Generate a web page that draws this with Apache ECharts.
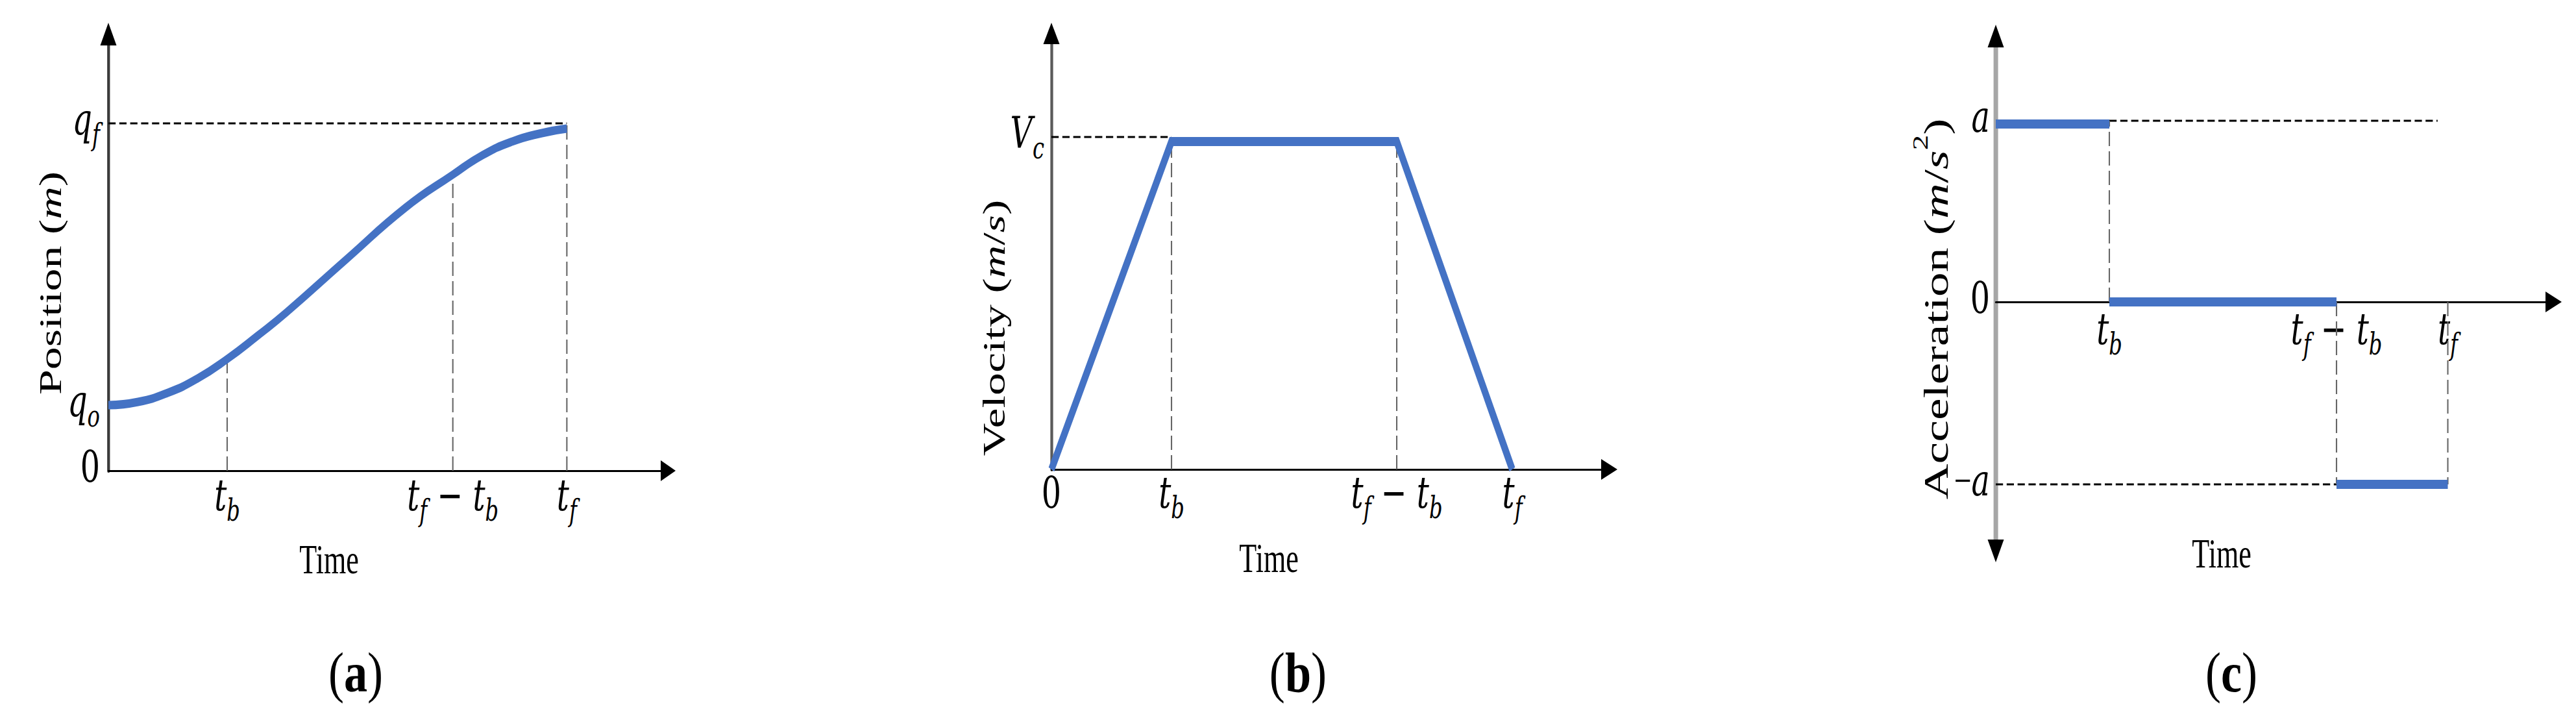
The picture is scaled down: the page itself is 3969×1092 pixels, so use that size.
<!DOCTYPE html>
<html><head><meta charset="utf-8">
<script src="https://cdn.jsdelivr.net/npm/echarts@6/dist/echarts.min.js"></script>
<style>
html,body{margin:0;padding:0;width:3969px;height:1092px;overflow:hidden;background:#fff}
#chart{width:5670px;height:1092px;transform:scaleX(0.7);transform-origin:0 0}
</style></head><body><div id="chart"></div>
<script>
// ---------------- data ----------------
// (a) Position
const posT = [0, 0.25, 0.5, 0.75, 1, 1.25, 1.5, 2, 2.5, 2.9, 3.15, 3.4, 3.65, 3.86];
const posQ = [1.01, 1.06, 1.2, 1.42, 1.72, 2.07, 2.44, 3.25, 4.05, 4.56, 4.86, 5.07, 5.2, 5.27];
const posXTicks = [1, 2.9, 3.86];
const posXLabels = ['{t|t}{s|b}', '{t|t}{s|f}{t| − t}{s|b}', '{t|t}{s|f}'];
const posYTicks = [0, 1.01, 5.35];
const posYLabels = ['{n|0}', '{t|q}{s|o}', '{t|q}{s|f}'];
const posGuideH = [[0, 3.86, 5.35]];                       // [t0, t1, q]
const posGuideV = [[1, 0, 1.72], [2.9, 0, 4.56], [3.86, 0, 5.35]]; // [t, q0, q1]
// (b) Velocity
const velT = [0, 1, 2.876, 3.838];
const velV = [0, 5.05, 5.05, 0];
const velXTicks = [0, 1, 2.876, 3.838];
const velXLabels = ['{n|0}', '{t|t}{s|b}', '{t|t}{s|f}{t| − t}{s|b}', '{t|t}{s|f}'];
const velYTicks = [5.12];
const velYLabels = ['{t|V}{s|c}'];
const velGuideH = [[0, 1, 5.12]];
const velGuideV = [[1, 0, 5.05], [2.876, 0, 5.05]];
// (c) Acceleration
const accStart = [0, 1, 3.0];
const accEnd = [1, 3.0, 3.98];
const accVal = [2.74, 0, -2.81];
const accXTicks = [1, 3.0, 3.98];
const accXLabels = ['{t|t}{s|b}', '{t|t}{s|f}{t| − t}{s|b}', '{t|t}{s|f}'];
const accYTicks = [2.79, 0, -2.81];
const accYLabels = ['{t|a}', '{n|0}', '{m|−}{t|a}'];
const accGuideH = [[1, 3.89, 2.79], [0, 3.0, -2.81]];
const accGuideV = [[1, 0, 2.79], [3.0, 0, -2.81], [3.98, 0, -2.81]];

// ---------------- layout (final page pixels) ----------------
const K = 0.7; // horizontal compression of the whole figure
const P = [
  {ox:167,  oy:725, ux:183, uy:100, xTip:1041, xLen:23, yTop:35, yLen:35, yBot:null, yW:4.3, yCol:'#3a3a3a', lw:13, xm:4,  ym:13},
  {ox:1620, oy:723, ux:185, uy:100, xTip:2492, xLen:25, yTop:35, yLen:33, yBot:null, yW:4.3, yCol:'#5a5a5a', lw:14, xm:2,  ym:11},
  {ox:3075, oy:465, ux:175, uy:100, xTip:3947, xLen:25, yTop:38, yLen:35, yBot:866,  yW:7,   yCol:'#a6a6a6', lw:14, xm:8,  ym:9}
];
const BLUE = '#4472C4';
const mathRich = {
  t: {fontFamily:'DejaVu Serif', fontStyle:'italic', fontSize:68, lineHeight:80, verticalAlign:'top', color:'#000'},
  s: {fontFamily:'DejaVu Serif', fontStyle:'italic', fontSize:46, lineHeight:42, verticalAlign:'bottom', color:'#000'},
  n: {fontFamily:'DejaVu Serif', fontSize:68, lineHeight:80, verticalAlign:'top', color:'#000'},
  m: {fontFamily:'Liberation Serif', fontSize:68, lineHeight:80, verticalAlign:'top', color:'#000'}
};

const grids = [], xAxes = [], yAxes = [], series = [];
const xTicksAll = [posXTicks, velXTicks, accXTicks];
const xLabAll = [posXLabels, velXLabels, accXLabels];
const yTicksAll = [posYTicks, velYTicks, accYTicks];
const yLabAll = [posYLabels, velYLabels, accYLabels];

P.forEach((p, i) => {
  const x1 = p.xTip - p.xLen / 2;
  const xMax = (x1 - p.ox) / p.ux;
  const topC = p.yTop + p.yLen / 2;
  const yMax = (p.oy - topC) / p.uy;
  const botC = p.yBot ? p.yBot - p.yLen / 2 : p.oy;
  const yMin = -(botC - p.oy) / p.uy;
  grids.push({left: p.ox / K, top: topC, width: (x1 - p.ox) / K, height: botC - topC, outerBoundsMode: 'none', containLabel: false});
  const xt = xTicksAll[i], xl = xLabAll[i];
  xAxes.push({
    gridIndex: i, type: 'value', min: 0, max: xMax, position: 'bottom', offset: -(botC - p.oy),
    axisLine: {show: true, onZero: false, symbol: ['none', 'triangle'], symbolSize: [32, p.xLen / K], lineStyle: {color: '#000', width: 3}},
    axisTick: {show: false}, splitLine: {show: false},
    axisLabel: {show: true, customValues: xt, margin: p.xm, rich: mathRich,
      formatter: v => { const k = xt.findIndex(a => Math.abs(a - v) < 1e-6); return k >= 0 ? xl[k] : ''; }}
  });
  const yt = yTicksAll[i], yl = yLabAll[i];
  yAxes.push({
    gridIndex: i, type: 'value', min: yMin, max: yMax, position: 'left',
    axisLine: {show: true, onZero: false, lineStyle: {color: p.yCol, width: p.yW / K}},
    axisTick: {show: false}, splitLine: {show: false},
    axisLabel: {show: true, customValues: yt, margin: p.ym / K, rich: mathRich,
      formatter: v => { const k = yt.findIndex(a => Math.abs(a - v) < 1e-6); return k >= 0 ? yl[k] : ''; }}
  });
  yAxes.push({
    gridIndex: i, type: 'value', min: yMin, max: yMax, position: 'left',
    axisLine: {show: true, onZero: false, symbol: [p.yBot ? 'triangle' : 'none', 'triangle'], symbolSize: [25 / K, p.yLen],
      lineStyle: {color: '#000', width: 1, type: [0, 100000]}},
    axisTick: {show: false}, splitLine: {show: false}, axisLabel: {show: false}
  });
});

function hGuide(i, g) {
  return {type: 'line', xAxisIndex: i, yAxisIndex: 2 * i, data: [[g[0], g[2]], [g[1], g[2]]], symbol: 'none', silent: true, z: 1,
    lineStyle: {color: '#000', width: 3, type: [16, 8]}};
}
function vGuide(i, g) {
  return {type: 'line', xAxisIndex: i, yAxisIndex: 2 * i, data: [[g[0], g[1]], [g[0], g[2]]], symbol: 'none', silent: true, z: 1,
    lineStyle: {color: '#666666', width: 3, type: [22, 8]}};
}
posGuideH.forEach(g => series.push(hGuide(0, g)));
posGuideV.forEach(g => series.push(vGuide(0, g)));
velGuideH.forEach(g => series.push(hGuide(1, g)));
velGuideV.forEach(g => series.push(vGuide(1, g)));
accGuideH.forEach(g => series.push(hGuide(2, g)));
accGuideV.forEach(g => series.push(vGuide(2, g)));

series.push({type: 'line', name: 'Position', xAxisIndex: 0, yAxisIndex: 0, smooth: 0.5, symbol: 'none', z: 5,
  data: posT.map((t, k) => [t, posQ[k]]), lineStyle: {color: BLUE, width: P[0].lw}});
series.push({type: 'line', name: 'Velocity', xAxisIndex: 1, yAxisIndex: 2, symbol: 'none', z: 5,
  data: velT.map((t, k) => [t, velV[k]]), lineStyle: {color: BLUE, width: P[1].lw, join: 'miter'}});
accStart.forEach((t0, k) => series.push({type: 'line', name: 'Acceleration', xAxisIndex: 2, yAxisIndex: 4, symbol: 'none', z: 5,
  data: [[t0, accVal[k]], [accEnd[k], accVal[k]]], lineStyle: {color: BLUE, width: P[2].lw}}));

// ---------------- texts ----------------
const serif = 'Liberation Serif';
function yTitle(x, y, txt, size) {
  return {type: 'text', x: x / K, y: y, rotation: Math.PI / 2, silent: true,
    style: {text: txt, align: 'center', verticalAlign: 'middle', fill: '#000',
      rich: {
        r: {fontFamily: serif, fontSize: size, lineHeight: size + 20, verticalAlign: 'bottom'},
        i: {fontFamily: serif, fontStyle: 'italic', fontSize: size, lineHeight: size + 20, verticalAlign: 'bottom'},
        sup: {fontFamily: serif, fontSize: Math.round(size * 0.62), lineHeight: 46, verticalAlign: 'top'}
      }}};
}
function plain(x, y, txt, size) {
  return {type: 'text', x: x / K, y: y, silent: true,
    style: {text: txt, fontFamily: serif, fontSize: size, fill: '#000', align: 'center', verticalAlign: 'middle'}};
}
function panel(x, y, letter) {
  return {type: 'text', x: x / K, y: y, scaleX: 1.2, silent: true,
    style: {text: '{p|(}{b|' + letter + '}{p|)}', align: 'center', verticalAlign: 'middle', fill: '#000',
      rich: {p: {fontFamily: serif, fontSize: 86}, b: {fontFamily: serif, fontSize: 86, fontWeight: 'bold'}}}};
}
const graphics = [
  yTitle(70, 436, '{r|Position (}{i|m}{r|)}', 70),
  yTitle(1524, 505, '{r|Velocity (}{i|m}{r|/}{i|s}{r|)}', 70),
  yTitle(2976, 476, '{r|Acceleration (}{i|m}{r|/}{i|s}{sup|2}{r|)}', 76),
  plain(507, 862, 'Time', 63),
  plain(1955, 860, 'Time', 63),
  plain(3423, 853, 'Time', 63),
  panel(548, 1036, 'a'),
  panel(2000, 1036, 'b'),
  panel(3438, 1036, 'c')
];

const chart = echarts.init(document.getElementById('chart'), null, {renderer: 'svg', width: 5670, height: 1092});
chart.setOption({
  animation: false,
  backgroundColor: '#fff',
  grid: grids, xAxis: xAxes, yAxis: yAxes, series: series,
  graphic: {elements: graphics}
});
</script></body></html>
